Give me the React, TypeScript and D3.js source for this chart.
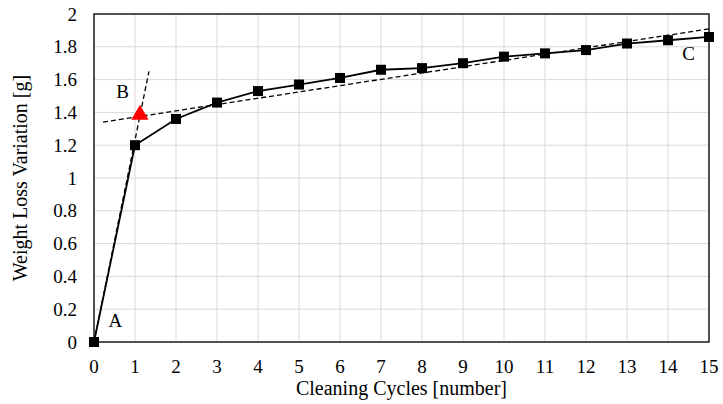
import React from 'react';
import * as d3 from 'd3';

const cycles = [0, 1, 2, 3, 4, 5, 6, 7, 8, 9, 10, 11, 12, 13, 14, 15];
const weightLoss = [0, 1.2, 1.36, 1.46, 1.53, 1.57, 1.61, 1.66, 1.67, 1.7, 1.74, 1.76, 1.78, 1.82, 1.84, 1.86];
const xTicks = [0, 1, 2, 3, 4, 5, 6, 7, 8, 9, 10, 11, 12, 13, 14, 15];
const yTicks = [0, 0.2, 0.4, 0.6, 0.8, 1, 1.2, 1.4, 1.6, 1.8, 2];
// tangent lines: [x0, y0, x1, y1]
const steepLine = [0, 0, 1.34, 1.65];
const flatLine = [0.22, 1.341, 15, 1.909];
const pointB = [1.12, 1.38];
const labels = [
  { text: 'A', x: 0.52, y: 0.09 },
  { text: 'B', x: 0.7, y: 1.49 },
  { text: 'C', x: 14.5, y: 1.72 },
];

const W = 723;
const H = 404;
const margin = { top: 14, right: 14, bottom: 62, left: 94 };

const txt: React.CSSProperties = {
  fontFamily: '"Liberation Serif", "Times New Roman", serif',
  fontSize: '19px',
};
const title: React.CSSProperties = { ...txt, fontSize: '20px' };

const App: React.FC = () => {
  const x = d3.scaleLinear().domain([0, 15]).range([margin.left, W - margin.right]);
  const y = d3.scaleLinear().domain([0, 2]).range([H - margin.bottom, margin.top]);
  const line = d3.line<number>().x((_, i) => x(cycles[i])).y(d => y(d));
  const tri = d3.symbol().type(d3.symbolTriangle).size(130)();

  return (
    <svg width={W} height={H} style={{ position: 'absolute', left: 0, top: 0 }}>
      <rect width={W} height={H} fill="#fff" />
      {/* grid */}
      {xTicks.map(t => (
        <line key={'gx' + t} x1={x(t)} x2={x(t)} y1={y(0)} y2={y(2)} stroke="#d9d9d9" strokeWidth={1} />
      ))}
      {yTicks.map(t => (
        <line key={'gy' + t} x1={x(0)} x2={x(15)} y1={y(t)} y2={y(t)} stroke="#d9d9d9" strokeWidth={1} />
      ))}
      <rect x={x(0)} y={y(2)} width={x(15) - x(0)} height={y(0) - y(2)} fill="none" stroke="#000" strokeWidth={1.3} />
      {/* tick labels */}
      {xTicks.map(t => (
        <text key={'tx' + t} x={x(t)} y={y(0) + 31} textAnchor="middle" style={txt}>{t}</text>
      ))}
      {yTicks.map(t => (
        <text key={'ty' + t} x={x(0) - 17} y={y(t) + 6.5} textAnchor="end" style={txt}>{t}</text>
      ))}
      {/* tangent lines */}
      {[steepLine, flatLine].map((l, i) => (
        <line key={'d' + i} x1={x(l[0])} y1={y(l[1])} x2={x(l[2])} y2={y(l[3])}
          stroke="#000" strokeWidth={1.3} strokeDasharray="5,3" />
      ))}
      <path d={line(weightLoss) || ''} fill="none" stroke="#000" strokeWidth={1.8} />
      {weightLoss.map((v, i) => (
        <rect key={'m' + i} x={x(cycles[i]) - 5} y={y(v) - 5} width={10} height={10} fill="#000" />
      ))}
      <path d={tri || ''} transform={`translate(${x(pointB[0])},${y(pointB[1]) - 1})`} fill="#ff0000" />
      {labels.map(l => (
        <text key={l.text} x={x(l.x)} y={y(l.y)} textAnchor="middle" style={txt}>{l.text}</text>
      ))}
      {/* axis titles */}
      <text x={(x(0) + x(15)) / 2} y={H - 9} textAnchor="middle" style={title}>Cleaning Cycles [number]</text>
      <text transform={`translate(27,${(y(0) + y(2)) / 2}) rotate(-90)`} textAnchor="middle" style={title}>
        Weight Loss Variation [g]
      </text>
    </svg>
  );
};

export default App;
